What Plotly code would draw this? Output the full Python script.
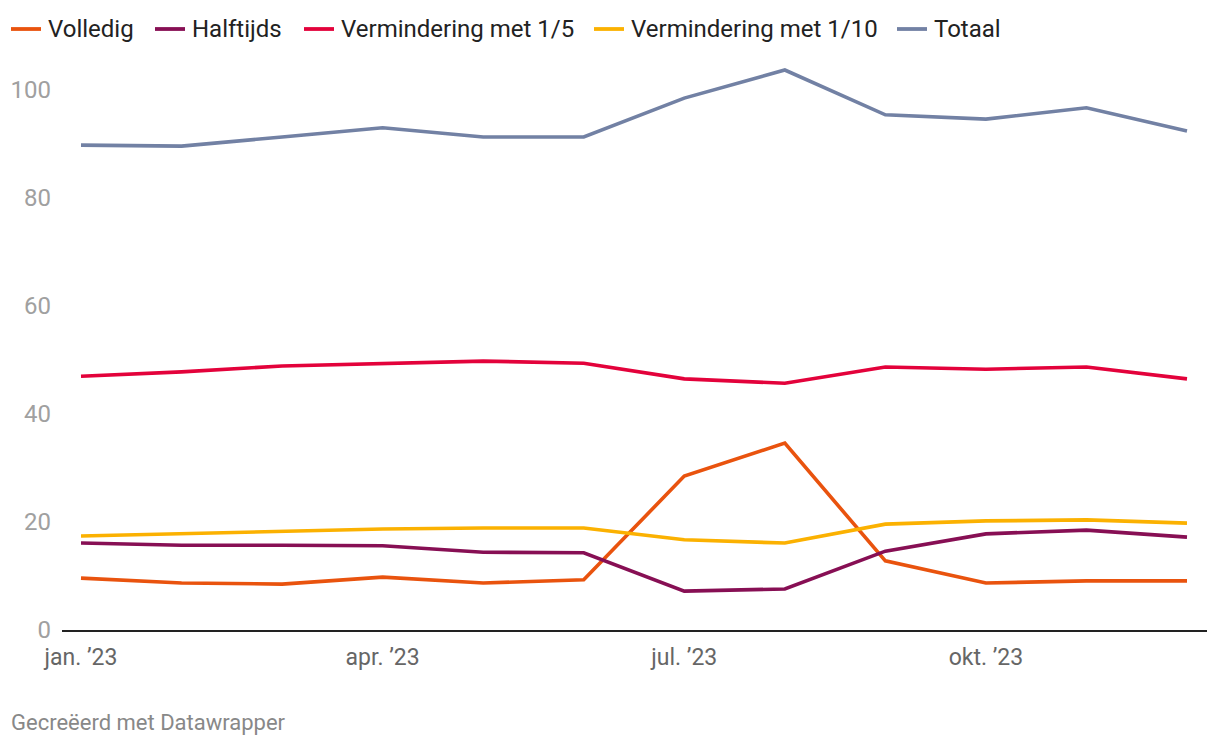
import plotly.graph_objects as go

months = ["jan", "feb", "mrt", "apr", "mei", "jun", "jul", "aug", "sep", "okt", "nov", "dec"]
tick_labels = ["jan. ’23", "apr. ’23", "jul. ’23", "okt. ’23"]
tick_positions = [0, 3, 6, 9]

volledig = [9.6, 8.7, 8.5, 9.8, 8.7, 9.3, 28.5, 34.6, 12.8, 8.7, 9.1, 9.1]
halftijds = [16.1, 15.7, 15.7, 15.6, 14.4, 14.3, 7.2, 7.6, 14.6, 17.8, 18.5, 17.2]
verm_5 = [47.0, 47.8, 48.9, 49.3, 49.8, 49.4, 46.5, 45.7, 48.7, 48.3, 48.7, 46.5]
verm_10 = [17.4, 17.8, 18.3, 18.7, 18.9, 18.9, 16.7, 16.1, 19.6, 20.2, 20.4, 19.8]
totaal = [89.8, 89.6, 91.3, 93.0, 91.3, 91.3, 98.5, 103.7, 95.4, 94.6, 96.7, 92.4]

series = [
    ("Volledig", volledig, "#e9530e"),
    ("Halftijds", halftijds, "#870f54"),
    ("Vermindering met 1/5", verm_5, "#e3023b"),
    ("Vermindering met 1/10", verm_10, "#fbb101"),
    ("Totaal", totaal, "#7281a4"),
]

W, H = 1220, 746
ML, MR, MT, MB = 62, 13, 63, 116
PW = W - ML - MR
PH = H - MT - MB
FONT = "Roboto"

x_idx = list(range(len(months)))

fig = go.Figure()
for name, vals, color in series:
    fig.add_trace(go.Scatter(
        x=x_idx, y=vals, mode="lines", name=name,
        line=dict(color=color, width=3.6),
        showlegend=False,
        hovertemplate=name + ": %{y}<extra></extra>",
    ))

def px_x(p):
    return (p - ML) / PW

def px_y(p):
    return (H - MB - p) / PH

# manual legend
legend_line_starts = [11, 155, 304, 594, 897]
legend_y = 29
shapes = []
annotations = []
for (name, vals, color), lx in zip(series, legend_line_starts):
    shapes.append(dict(type="line", xref="paper", yref="paper",
                       x0=px_x(lx), x1=px_x(lx + 30), y0=px_y(legend_y), y1=px_y(legend_y),
                       line=dict(color=color, width=3.8)))
    annotations.append(dict(xref="paper", yref="paper", x=px_x(lx + 35), y=px_y(legend_y),
                            xanchor="left", yanchor="middle", showarrow=False,
                            text=name, font=dict(family=FONT, size=24, color="#222222")))

annotations.append(dict(xref="paper", yref="paper", x=px_x(9), y=px_y(722),
                        xanchor="left", yanchor="middle", showarrow=False,
                        text="Gecreëerd met Datawrapper",
                        font=dict(family=FONT, size=22, color="#888888")))

fig.update_layout(
    width=W, height=H,
    margin=dict(l=ML, r=MR, t=MT, b=MB, pad=0),
    paper_bgcolor="white", plot_bgcolor="white",
    font=dict(family=FONT),
    shapes=shapes, annotations=annotations,
    showlegend=False,
    xaxis=dict(
        range=[-(81 - ML) / 100.545, 11 + (W - MR - 1187) / 100.545],
        tickvals=tick_positions, ticktext=tick_labels,
        showgrid=False, zeroline=False,
        showline=True, linecolor="#222222", linewidth=2,
        ticks="", ticklabelstandoff=5,
        tickfont=dict(family=FONT, size=23, color="#666666"),
    ),
    yaxis=dict(
        range=[0, 105],
        tickvals=[0, 20, 40, 60, 80, 100],
        showgrid=False, zeroline=False, showline=False,
        ticks="", ticklabelstandoff=10,
        tickfont=dict(family=FONT, size=24, color="#a0a0a0"),
    ),
)

fig.write_html("out.html", config={"displayModeBar": False},
               post_script="document.body.style.margin='0';document.body.style.padding='0';")
